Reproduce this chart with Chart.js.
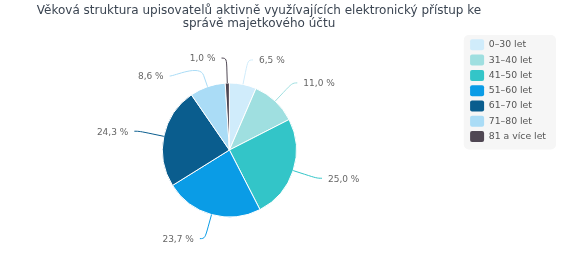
<!DOCTYPE html>
<html><head><meta charset="utf-8">
<script src="https://cdn.jsdelivr.net/npm/chart.js@4.4.1/dist/chart.umd.min.js"></script>
<style>html,body{margin:0;padding:0;background:#fff}#wrap{width:565px;height:256px;position:relative}</style>
</head><body><div id="wrap"><canvas id="c"></canvas></div>
<script>
const titleLines = ['Věková struktura upisovatelů aktivně využívajících elektronický přístup ke', 'správě majetkového účtu'];
const categories = ['0–30 let', '31–40 let', '41–50 let', '51–60 let', '61–70 let', '71–80 let', '81 a více let'];
const shares = [6.5, 11.0, 25.0, 23.7, 24.3, 8.6, 1.0];
const colors = ['#d0ecfb', '#9fdfe0', '#33c5c8', '#0a9ce6', '#0a5d8e', '#aadcf6', '#4f4753'];

const FONT = '"DejaVu Sans", "Lucida Grande", sans-serif';

const titlePlugin = {
  id: 'titleText',
  afterDraw(chart) {
    const ctx = chart.ctx;
    ctx.save();
    ctx.font = '12px ' + FONT;
    ctx.fillStyle = '#3b4552';
    ctx.textAlign = 'center';
    ctx.textBaseline = 'middle';
    titleLines.forEach((t, i) => ctx.fillText(t, 259, 10.5 + i * 13));
    ctx.restore();
  }
};

// shift the pie area a little relative to the legend column
const areaShift = {
  id: 'areaShift',
  afterLayout(chart) {
    chart.chartArea.top += 9;
    chart.chartArea.left -= 7;
    chart.chartArea.width = chart.chartArea.right - chart.chartArea.left;
    chart.chartArea.height = chart.chartArea.bottom - chart.chartArea.top;
  }
};

const legendBg = {
  id: 'legendBg',
  beforeDraw(chart) {
    const lg = chart.legend;
    if (!lg) return;
    const ctx = chart.ctx;
    const pad = 4.3, pitch = 11 + pad;
    const x = lg.left - 2, y = lg.top;
    const w = lg.width + 2, h = pad + categories.length * pitch + 3;
    ctx.save();
    ctx.fillStyle = '#f6f6f6';
    ctx.beginPath();
    ctx.roundRect(x, y, w, h, 5);
    ctx.fill();
    ctx.restore();
  }
};

const fmt = v => v.toFixed(1).replace('.', ',') + ' %';

const labelPlugin = {
  id: 'pieLabels',
  afterDatasetsDraw(chart) {
    const meta = chart.getDatasetMeta(0);
    const ctx = chart.ctx;
    const items = meta.data.map((arc, i) => {
      const p = arc.getProps(['x', 'y', 'startAngle', 'endAngle', 'outerRadius'], true);
      const mid = (p.startAngle + p.endAngle) / 2;
      const R = p.outerRadius + 25;
      return { i, mid, cx: p.x, cy: p.y, r: p.outerRadius, R,
        left: Math.cos(mid) < 0,
        nx: p.x + R * Math.cos(mid), ny: p.y + R * Math.sin(mid) };
    });
    [true, false].forEach(side => {
      const list = items.filter(it => it.left === side).sort((a, b) => a.ny - b.ny);
      let prev = -Infinity;
      list.forEach(it => {
        it.y = Math.max(it.ny, prev + 18);
        it.moved = it.y !== it.ny;
        prev = it.y;
      });
    });
    ctx.save();
    items.forEach(it => {
      if (it.moved) {
        const dy = Math.max(-it.R, Math.min(it.R, it.y - it.cy));
        const dx = Math.sqrt(it.R * it.R - dy * dy);
        it.x = it.cx + (it.left ? -dx : dx);
      } else {
        it.x = it.nx;
      }
      const sgn = it.left ? -1 : 1;
      const c = Math.cos(it.mid), s = Math.sin(it.mid);
      const tx = it.cx + it.r * c, ty = it.cy + it.r * s;
      const bx = it.cx + (it.r + 12) * c, by = it.cy + (it.r + 12) * s;
      const lx = it.x + sgn * 5;
      ctx.beginPath();
      ctx.moveTo(lx, it.y);
      ctx.bezierCurveTo(lx - sgn * 5, it.y, 2 * bx - tx, 2 * by - ty, bx, by);
      ctx.lineTo(tx, ty);
      ctx.strokeStyle = colors[it.i];
      ctx.lineWidth = 1;
      ctx.stroke();
      ctx.font = '9px ' + FONT;
      ctx.fillStyle = '#666666';
      ctx.textBaseline = 'middle';
      ctx.textAlign = it.left ? 'right' : 'left';
      ctx.fillText(fmt(shares[it.i]), it.x + sgn * 11, it.y + 1);
    });
    ctx.restore();
  }
};

new Chart(document.getElementById('c'), {
  type: 'pie',
  data: {
    labels: categories,
    datasets: [{
      data: shares,
      backgroundColor: colors,
      borderColor: '#ffffff',
      borderWidth: 1,
      radius: 67
    }]
  },
  options: {
    responsive: true,
    maintainAspectRatio: false,
    animation: false,
    events: [],
    layout: { padding: { left: 0, right: 9, top: 35, bottom: 0 } },
    plugins: {
      title: { display: false },
      tooltip: { enabled: false },
      legend: {
        position: 'right',
        align: 'start',
        labels: {
          boxWidth: 14,
          boxHeight: 11,
          padding: 4.3,
          color: '#555555',
          font: { family: FONT, size: 9.3 },
          useBorderRadius: true,
          borderRadius: 2,
          generateLabels(chart) {
            return Chart.overrides.pie.plugins.legend.labels.generateLabels(chart).map(l => Object.assign(l, { lineWidth: 0, strokeStyle: 'rgba(0,0,0,0)' }));
          }
        }
      }
    }
  },
  plugins: [areaShift, legendBg, labelPlugin, titlePlugin]
});
</script>
</body></html>
